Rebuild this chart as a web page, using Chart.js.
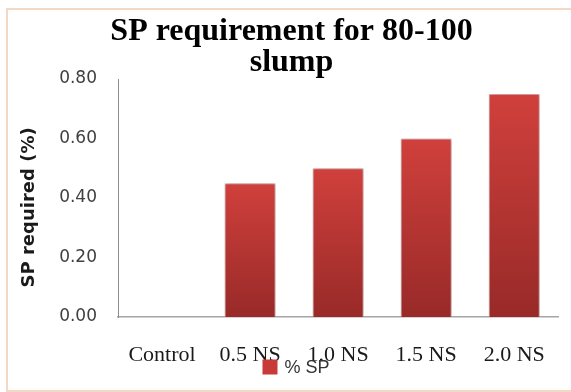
<!DOCTYPE html>
<html>
<head>
<meta charset="utf-8">
<script src="https://cdn.jsdelivr.net/npm/chart.js@4.4.1/dist/chart.umd.min.js"></script>
<style>
  html, body { margin: 0; padding: 0; background: #ffffff; }
  #wrap { width: 571px; height: 392px; position: relative; }
</style>
</head>
<body>
<div id="wrap"><canvas id="chart" width="571" height="392"></canvas></div>
<script>
// Superplasticizer dosage needed for 80-100 mm slump, per mix
const categories = ['Control', '0.5 NS', '1.0 NS', '1.5 NS', '2.0 NS'];
const spValues = [0, 0.45, 0.50, 0.60, 0.75];
const seriesName = '% SP';
const titleLines = ['SP requirement for 80-100', 'slump'];
const yAxisTitle = 'SP required (%)';
const yTickMin = 0;
const yTickMax = 0.8;
const yTickStep = 0.2;

const barTop = 'rgb(208,64,60)';
const barBottom = 'rgb(152,42,40)';

// Per-bar vertical gradient, bright at the top of each bar
function barFill(ctx) {
  const chart = ctx.chart;
  const area = chart.chartArea;
  const y = chart.scales.y;
  if (!area || !y || ctx.raw == null) return barTop;
  const top = y.getPixelForValue(ctx.raw);
  const base = y.getPixelForValue(0);
  if (!isFinite(top) || Math.abs(base - top) < 1) return barTop;
  const g = chart.ctx.createLinearGradient(0, top, 0, base);
  g.addColorStop(0, barTop);
  g.addColorStop(1, barBottom);
  return g;
}

// Outer frame and white page
const framePlugin = {
  id: 'frame',
  beforeDraw(chart) {
    const c = chart.ctx;
    c.save();
    c.fillStyle = '#ffffff';
    c.fillRect(0, 0, chart.width, chart.height);
    c.strokeStyle = '#f4d9c6';
    c.lineWidth = 2;
    c.strokeRect(7, 9, chart.width + 10, chart.height - 10);
    c.restore();
  }
};

// Soft shadow around the bars
const shadowPlugin = {
  id: 'barShadow',
  beforeDatasetsDraw(chart) {
    const c = chart.ctx;
    c.save();
    c.shadowColor = 'rgba(0,0,0,0.35)';
    c.shadowBlur = 4;
    c.shadowOffsetX = 0;
    c.shadowOffsetY = 0;
  },
  afterDatasetsDraw(chart) {
    chart.ctx.restore();
  }
};

// Legend swatch and series name, tucked just under the category labels
const legendPlugin = {
  id: 'seriesKey',
  afterDraw(chart) {
    const c = chart.ctx;
    const ds = chart.data.datasets[0];
    const box = 15;
    const cx = 296;
    const cy = 367;
    c.save();
    c.font = '18px "Liberation Sans", Arial, sans-serif';
    const tw = c.measureText(ds.label).width;
    const gap = 7;
    const total = box + gap + tw;
    const x0 = cx - total / 2;
    c.fillStyle = 'rgb(200,58,55)';
    c.fillRect(x0, cy - box / 2, box, box);
    c.fillStyle = '#333333';
    c.textBaseline = 'middle';
    c.textAlign = 'left';
    c.fillText(ds.label, x0 + box + gap, cy + 1);
    c.restore();
  }
};

new Chart(document.getElementById('chart'), {
  type: 'bar',
  data: {
    labels: categories,
    datasets: [{
      label: seriesName,
      data: spValues,
      backgroundColor: barFill,
      borderColor: 'rgba(235,150,150,0.7)',
      borderWidth: 1,
      categoryPercentage: 1,
      barPercentage: 0.58
    }]
  },
  options: {
    responsive: false,
    animation: false,
    devicePixelRatio: 1,
    layout: { padding: { left: 24, right: 12, top: 0, bottom: 25 } },
    plugins: {
      legend: { display: false },
      tooltip: { enabled: false },
      title: {
        display: true,
        text: titleLines,
        color: '#000000',
        font: { family: '"Liberation Serif", "Times New Roman", serif', size: 32, weight: 'bold', lineHeight: '31px' },
        padding: { top: 16, bottom: 1 }
      }
    },
    scales: {
      x: {
        grid: { display: false, drawTicks: false, tickLength: 0 },
        border: { display: true, color: '#a6a6a6', width: 1.5 },
        ticks: {
          color: '#1a1a1a',
          padding: 25,
          maxRotation: 0,
          autoSkip: false,
          font: { family: '"Liberation Serif", "Times New Roman", serif', size: 22 }
        },
        afterFit(scale) { scale.height = 50; }
      },
      y: {
        min: yTickMin,
        max: yTickMax,
        grid: { display: false, drawTicks: false, tickLength: 0 },
        border: { display: true, color: '#8c8c8c', width: 1 },
        ticks: {
          stepSize: yTickStep,
          color: '#404040',
          padding: 21,
          font: { family: '"DejaVu Sans", sans-serif', size: 17 },
          callback: v => Number(v).toFixed(2)
        },
        title: {
          display: true,
          text: yAxisTitle + '   ',
          color: '#1a1a1a',
          padding: { top: -5, bottom: 0 },
          font: { family: '"DejaVu Sans", sans-serif', size: 18, weight: 'bold' }
        },
        afterFit(scale) { scale.width = 94; }
      }
    }
  },
  plugins: [framePlugin, shadowPlugin, legendPlugin]
});
</script>
</body>
</html>
